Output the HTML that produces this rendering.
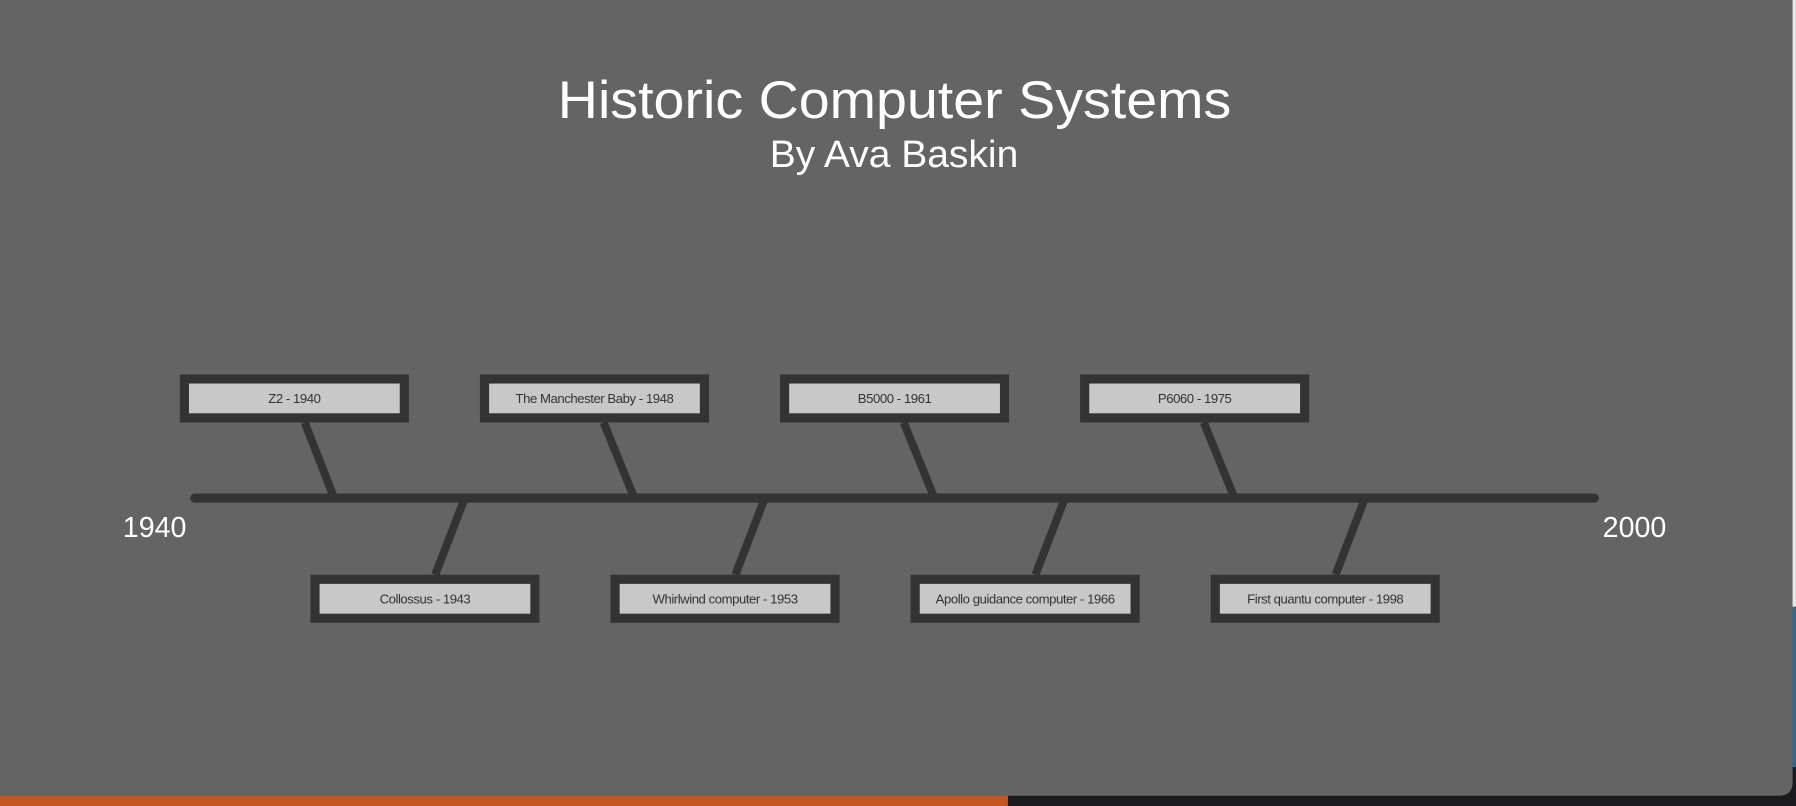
<!DOCTYPE html>
<html><head><meta charset="utf-8"><style>
html,body{margin:0;padding:0;background:#1a1a1a;}
svg{display:block;}
text{font-family:"Liberation Sans",sans-serif;}
</style></head><body>
<svg width="1796" height="806" viewBox="0 0 1568 704" preserveAspectRatio="none">
<rect x="0" y="0" width="1568" height="704" fill="#1b1b1d"/>
<rect x="0" y="694" width="880" height="10" fill="#c4561f"/>
<rect x="1564" y="0" width="4" height="530" fill="#e8e8e8"/>
<rect x="1564" y="530" width="4" height="140" fill="#2a6a9a"/>
<path d="M0 0 H1565 V683 Q1565 695 1553 695 H0 Z" fill="#646464"/>
<text x="487" y="103" font-size="46" fill="#fff" textLength="588" lengthAdjust="spacingAndGlyphs">Historic Computer Systems</text>
<text x="672" y="146" font-size="33" fill="#fff" textLength="217" lengthAdjust="spacingAndGlyphs">By Ava Baskin</text>
<g stroke="#333" stroke-width="7" fill="none">
<line x1="266" y1="369" x2="291" y2="433"/>
<line x1="527" y1="369" x2="553" y2="433"/>
<line x1="789" y1="369" x2="815" y2="433"/>
<line x1="1051" y1="369" x2="1077" y2="433"/>
<line x1="405" y1="437" x2="380" y2="502"/>
<line x1="667" y1="437" x2="642" y2="502"/>
<line x1="929" y1="437" x2="904" y2="502"/>
<line x1="1191" y1="437" x2="1166" y2="502"/>
</g>
<line x1="170" y1="435" x2="1392" y2="435" stroke="#333" stroke-width="8" stroke-linecap="round"/>
<text x="135" y="469" font-size="25" fill="#fff" text-anchor="middle">1940</text>
<text x="1427" y="469" font-size="25" fill="#fff" text-anchor="middle">2000</text>
<g fill="#c8c8c8" stroke="#333" stroke-width="8">
<rect x="161" y="331" width="192" height="34"/>
<rect x="423" y="331" width="192" height="34"/>
<rect x="685" y="331" width="192" height="34"/>
<rect x="947" y="331" width="192" height="34"/>
<rect x="275" y="506" width="192" height="34"/>
<rect x="537" y="506" width="192" height="34"/>
<rect x="799" y="506" width="192" height="34"/>
<rect x="1061" y="506" width="192" height="34"/>
</g>
<g font-size="11.5" fill="#333" text-anchor="middle" letter-spacing="-0.4">
<text x="257" y="352">Z2 - 1940</text>
<text x="519" y="352">The Manchester Baby - 1948</text>
<text x="781" y="352">B5000 - 1961</text>
<text x="1043" y="352">P6060 - 1975</text>
<text x="371" y="527">Collossus - 1943</text>
<text x="633" y="527">Whirlwind computer - 1953</text>
<text x="895" y="527">Apollo guidance computer - 1966</text>
<text x="1157" y="527">First quantu computer - 1998</text>
</g>
</svg>
</body></html>
